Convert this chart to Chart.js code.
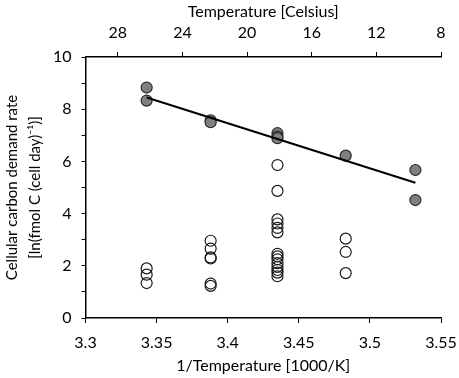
<!DOCTYPE html>
<html>
<head>
<meta charset="utf-8">
<script src="https://cdn.jsdelivr.net/npm/chart.js@4"></script>
<style>
  body { margin: 0; background: #fff; }
</style>
</head>
<body>
<canvas id="chart" width="459" height="378"></canvas>
<script>
// x positions (1000/K) of the five culture temperatures
const invTemp = [3.343, 3.388, 3.435, 3.483, 3.532];

// filled circles (fitted series)
const filledX = [3.343, 3.343, 3.388, 3.388, 3.435, 3.435, 3.435, 3.483, 3.532, 3.532];
const filledY = [8.83, 8.33, 7.57, 7.5, 7.08, 6.95, 6.89, 6.22, 5.67, 4.52];

// open circles
const openX = [3.343, 3.343, 3.343,
  3.388, 3.388, 3.388, 3.388, 3.388, 3.388,
  3.435, 3.435, 3.435, 3.435, 3.435, 3.435, 3.435, 3.435, 3.435, 3.435, 3.435, 3.435, 3.435, 3.435,
  3.483, 3.483, 3.483];
const openY = [1.9, 1.66, 1.34,
  2.96, 2.66, 2.32, 2.28, 1.32, 1.23,
  5.86, 4.87, 3.78, 3.62, 3.45, 3.28, 2.46, 2.36, 2.25, 2.1, 1.96, 1.84, 1.74, 1.6,
  3.04, 2.53, 1.72];

// regression line end points
const fitX = [3.343, 3.532];
const fitY = [8.45, 5.18];

const xTicks = [3.3, 3.35, 3.4, 3.45, 3.5, 3.55];
const celsiusTicks = [28, 24, 20, 16, 12, 8];

const toPts = (xs, ys) => xs.map((x, i) => ({ x: x, y: ys[i] }));
const tickFont = { family: "Lato, sans-serif", size: 16 };
const titleFont = { family: "Lato, sans-serif", size: 16 };

// keep the plot box fixed: no extra room for overflowing end labels
function fixX(h) {
  return (axis) => { axis.height = h; axis.paddingLeft = 0; axis.paddingRight = 0; };
}

const ctx = document.getElementById("chart").getContext("2d");
new Chart(ctx, {
  type: "scatter",
  data: {
    datasets: [
      {
        data: toPts(fitX, fitY),
        showLine: true,
        borderColor: "#000",
        borderWidth: 2,
        pointRadius: 0,
        order: 0,
      },
      {
        data: toPts(filledX, filledY),
        backgroundColor: "#808080",
        borderColor: "#2b2b2b",
        borderWidth: 1.2,
        pointRadius: 5.5,
        order: 1,
      },
      {
        data: toPts(openX, openY),
        backgroundColor: "rgba(255,255,255,0)",
        borderColor: "#1a1a1a",
        borderWidth: 1.2,
        pointRadius: 5.5,
        order: 2,
      },
    ],
  },
  options: {
    responsive: false,
    animation: false,
    layout: { padding: { left: 0, right: 18, top: 0, bottom: 0 } },
    plugins: { legend: { display: false }, tooltip: { enabled: false } },
    scales: {
      x: {
        type: "linear",
        position: "bottom",
        min: 3.3,
        max: 3.55,
        afterBuildTicks: (axis) => { axis.ticks = xTicks.map((v) => ({ value: v })); },
        afterFit: fixX(60),
        ticks: {
          color: "#000",
          font: tickFont,
          padding: 10,
          maxRotation: 0,
          callback: (v) => String(Math.round(v * 100) / 100),
        },
        grid: { drawOnChartArea: false, color: "#000", tickLength: 5 },
        border: { color: "#000", width: 1.5 },
        title: { display: true, text: "1/Temperature [1000/K]", color: "#000", font: titleFont, padding: { top: 0, bottom: 3 } },
      },
      x2: {
        type: "linear",
        position: "top",
        min: 8,
        max: 30,
        reverse: true,
        afterBuildTicks: (axis) => { axis.ticks = celsiusTicks.map((v) => ({ value: v })); },
        afterFit: fixX(57),
        ticks: { color: "#000", font: tickFont, padding: 10, maxRotation: 0 },
        grid: { drawOnChartArea: false, color: "#000", tickLength: 5 },
        border: { color: "#000", width: 1.5 },
        title: { display: true, text: "Temperature [Celsius]", color: "#000", font: titleFont, padding: { top: 2, bottom: 0 } },
      },
      y: {
        min: 0,
        max: 10,
        ticks: {
          stepSize: 1,
          color: "#000",
          font: tickFont,
          padding: 10,
          callback: (v) => (v % 2 === 0 ? String(v) : ""),
        },
        afterFit: (axis) => { axis.width = 85.5; axis.paddingTop = 0; axis.paddingBottom = 0; },
        grid: { drawOnChartArea: false, color: "#000", tickLength: 4 },
        border: { color: "#000", width: 1.5 },
        title: {
          display: true,
          text: ["Cellular carbon demand rate", "[ln(fmol C (cell day)\u207B\u00B9)]"],
          color: "#000",
          font: { family: "Lato, sans-serif", size: 15, lineHeight: 1.5 },
          padding: { top: 1, bottom: 0 },
        },
      },
    },
  },
});
</script>
</body>
</html>
